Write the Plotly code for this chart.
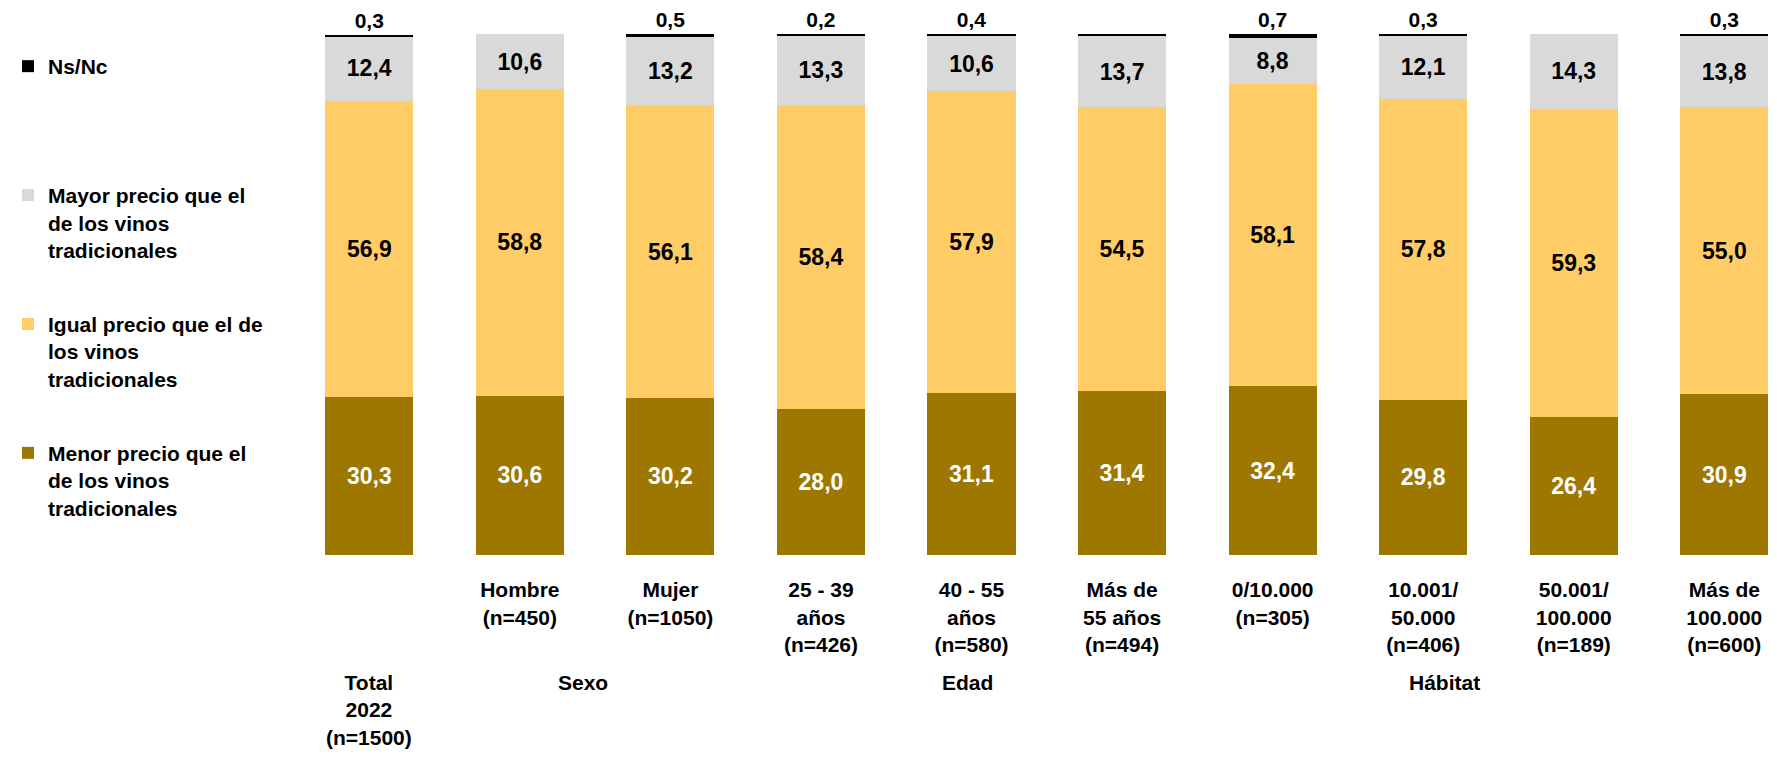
import plotly.graph_objects as go

categories = ["Total", "Hombre", "Mujer", "25-39", "40-55", "Mas55",
              "0/10.000", "10.001/50.000", "50.001/100.000", "Mas100.000"]
tick_labels = ["", "Hombre<br>(n=450)", "Mujer<br>(n=1050)",
               "25 - 39<br>años<br>(n=426)", "40 - 55<br>años<br>(n=580)",
               "Más de<br>55 años<br>(n=494)", "0/10.000<br>(n=305)",
               "10.001/<br>50.000<br>(n=406)", "50.001/<br>100.000<br>(n=189)",
               "Más de<br>100.000<br>(n=600)"]
group_labels = ["Total<br>2022<br>(n=1500)", "Sexo", "Edad", "Hábitat"]

menor = [30.3, 30.6, 30.2, 28.0, 31.1, 31.4, 32.4, 29.8, 26.4, 30.9]
igual = [56.9, 58.8, 56.1, 58.4, 57.9, 54.5, 58.1, 57.8, 59.3, 55.0]
mayor = [12.4, 10.6, 13.2, 13.3, 10.6, 13.7, 8.8, 12.1, 14.3, 13.8]
nsnc = [0.3, None, 0.5, 0.2, 0.4, 0.4, 0.7, 0.3, None, 0.3]

series_names = ["Menor precio que el<br>de los vinos<br>tradicionales",
                "Igual precio que el de<br>los vinos<br>tradicionales",
                "Mayor precio que el<br>de los vinos<br>tradicionales",
                "Ns/Nc<br> <br> "]

FONT = "Liberation Sans, Arial, sans-serif"
FS = 21

fig = go.Figure()
specs = [
    (menor, series_names[0], "#9E7700", "white", "inside", 23),
    (igual, series_names[1], "#FFCC66", "black", "inside", 23),
    (mayor, series_names[2], "#D9D9D9", "black", "inside", 23),
    (nsnc, series_names[3], "#000000", "black", "outside", 21),
]
for i, (vals, name, color, tcolor, tpos, tsize) in enumerate(specs):
    fig.add_trace(go.Bar(
        x=categories, y=vals, name=name, legendgroup=f"g{i}",
        legendrank=1000 - i,
        marker=dict(color=color, line=dict(width=0)),
        texttemplate="<b>%{y:.1f}</b>", textposition=tpos,
        insidetextanchor="middle", constraintext="none",
        textfont=dict(family=FONT, size=tsize, color=tcolor),
        cliponaxis=False, hoverinfo="skip",
    ))

annotations = []
group_pos = [0, 1.42, 3.97, 7.14]
for lbl, xp in zip(group_labels, group_pos):
    annotations.append(dict(
        x=xp, xref="x", y=0, yref="paper", yanchor="top", yshift=-114,
        text=f"<b>{lbl}</b>", showarrow=False,
        font=dict(family=FONT, size=FS, color="black"), align="center"))

fig.update_layout(
    width=1777, height=757,
    barmode="stack", bargap=0.415,
    separators=",.",
    plot_bgcolor="white", paper_bgcolor="white",
    margin=dict(l=294, r=0, t=34, b=202),
    font=dict(family=FONT, size=FS, color="black"),
    showlegend=True,
    legend=dict(
        xref="container", yref="container", x=8 / 1777, y=1 - 46 / 757,
        xanchor="left", yanchor="top", valign="top",
        traceorder="grouped", maxheight=740,
        tracegroupgap=44, bgcolor="rgba(0,0,0,0)",
        font=dict(family=FONT, size=FS, color="black", weight="bold"),
    ),
    xaxis=dict(
        tickvals=categories, ticktext=[f"<b>{t}</b>" if t else "" for t in tick_labels],
        range=[-0.5, 9.35], showgrid=False, showline=False, zeroline=False,
        ticks="outside", ticklen=16, tickcolor="rgba(0,0,0,0)",
        tickfont=dict(family=FONT, size=FS, color="black"),
    ),
    yaxis=dict(range=[0, 100], visible=False, showgrid=False, zeroline=False),
    annotations=annotations,
)

fig.write_html("out.html", config={"displayModeBar": False},
               post_script="document.body.style.margin='0';document.body.style.overflow='hidden';")
